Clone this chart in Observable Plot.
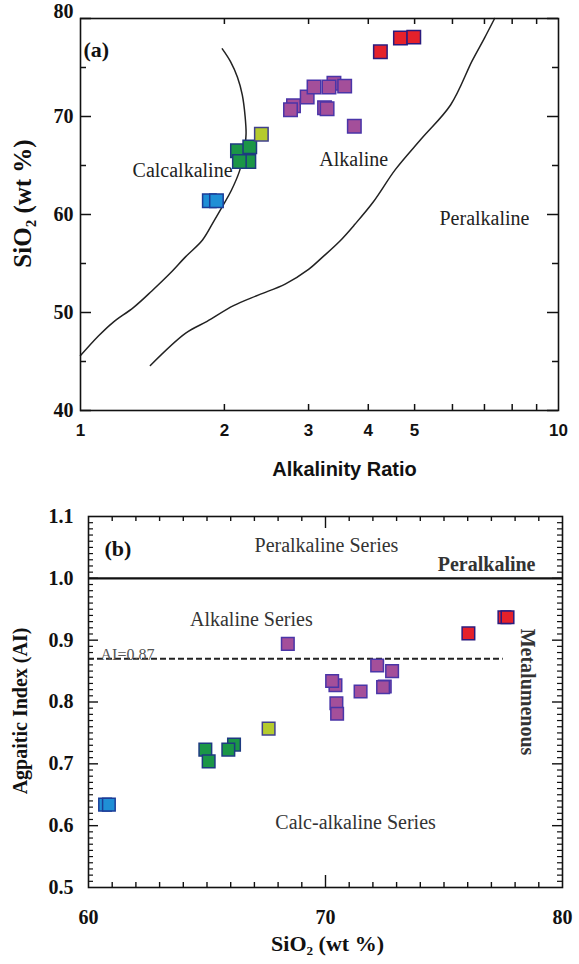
<!DOCTYPE html>
<html>
<head>
<meta charset="utf-8">
<script src="https://cdn.jsdelivr.net/npm/d3@7"></script>
<script src="https://cdn.jsdelivr.net/npm/@observablehq/plot@0.6"></script>
<style>
  body { margin: 0; background: #fff; }
  #fig { position: relative; width: 579px; height: 964px; background: #fff; }
  #fig svg { display: block; }
</style>
</head>
<body>
<div id="fig"></div>
<script>
// ---------- Panel (a): SiO2 vs alkalinity ratio ----------
const groupA  = ["G1","G1","G2","G2","G2","G2","G3","G4","G4","G4","G4","G4","G4","G4","G4","G4","G4","G5","G5","G5"];
const ratioA  = [1.86, 1.925, 2.13, 2.26, 2.25, 2.15, 2.39, 2.79, 2.75, 2.98, 3.08, 3.39, 3.31, 3.57, 3.24, 3.28, 3.74, 4.24, 4.67, 4.98];
const sio2A   = [61.4, 61.4, 66.5, 66.9, 65.4, 65.4, 68.2, 71.1, 70.7, 72.0, 73.0, 73.4, 73.0, 73.1, 70.9, 70.8, 69.0, 76.6, 78.0, 78.1];

// field boundaries (alkalinity ratio, SiO2)
const calcAlkRatio = [1.00, 1.09, 1.17, 1.29, 1.41, 1.54, 1.66, 1.80, 1.90, 1.98, 2.07, 2.15, 2.20, 2.22, 2.21, 2.18, 2.13, 2.06, 1.98];
const calcAlkSio2  = [45.6, 47.6, 49.0, 50.5, 52.2, 54.0, 55.7, 57.4, 59.3, 60.8, 62.5, 64.4, 66.3, 68.2, 70.0, 72.2, 74.0, 75.6, 76.9];
const perAlkRatio  = [1.40, 1.66, 1.84, 2.09, 2.36, 2.68, 3.00, 3.20, 3.49, 3.75, 4.10, 4.56, 5.16, 5.95, 6.60, 7.00, 7.35];
const perAlkSio2   = [44.6, 47.9, 49.1, 50.7, 51.8, 52.9, 54.4, 55.6, 57.3, 59.0, 61.3, 64.6, 67.7, 71.2, 75.7, 78.0, 80.0];

const ratioTicks   = [1, 2, 3, 4, 5, 6, 7, 8, 9, 10];
const sio2Major    = [40, 50, 60, 70, 80];
const sio2Minor    = [45, 55, 65, 75];

const fieldLabelsA = ["Calcalkaline", "Alkaline", "Peralkaline"];
const fieldRatioA  = [1.635, 3.73, 7.0];
const fieldSio2A   = [64.5, 65.6, 59.6];

// ---------- Panel (b): agpaitic index vs SiO2 ----------
const groupB = ["G1","G1","G2","G2","G2","G2","G3","G4","G4","G4","G4","G4","G4","G4","G4","G4","G4","G5","G5","G5"];
const sio2B  = [60.70, 60.86, 64.93, 65.07, 66.14, 65.90, 67.60, 68.41, 70.42, 70.28, 70.46, 70.49, 71.48, 72.50, 72.43, 72.18, 72.81, 76.03, 77.55, 77.68];
const aiB    = [0.634, 0.634, 0.723, 0.704, 0.731, 0.723, 0.757, 0.894, 0.827, 0.834, 0.798, 0.781, 0.817, 0.825, 0.824, 0.859, 0.850, 0.911, 0.937, 0.937];

const peralkalineLimit = 1.0;
const aiLimit = 0.87;
const aiLimitEnd = 77.5;

const sio2TicksB = [60, 70, 80];
const aiTicksB   = [0.5, 0.6, 0.7, 0.8, 0.9, 1.0, 1.1];

const seriesLabelsB = ["Peralkaline Series", "Alkaline Series", "Calc-alkaline Series"];
const seriesSio2B   = [70.04, 66.87, 71.27];
const seriesAiB     = [1.053, 0.933, 0.605];

// ---------- styling ----------
const groupStyle = {
  G1: {fill: "#1f8fd6", stroke: "#1b3d98"},
  G2: {fill: "#1b9647", stroke: "#1d3a80"},
  G3: {fill: "#b5cb2d", stroke: "#40408c"},
  G4: {fill: "#a44f9a", stroke: "#4a35a8"},
  G5: {fill: "#e5212b", stroke: "#2b1b7d"}
};
const serif = "'Liberation Serif', 'Times New Roman', serif";
const sans = "'Liberation Sans', Arial, sans-serif";

const rowsA = ratioA.map((r, i) => ({ratio: r, sio2: sio2A[i], group: groupA[i]}));
const rowsB = sio2B.map((s, i) => ({sio2: s, ai: aiB[i], group: groupB[i]}));
const line = (xs, ys) => xs.map((x, i) => ({x, y: ys[i]}));

function dotsByGroup(rows, x, y, r) {
  return rows.map((d) => Plot.dot([d], {
    x, y, symbol: "square", r,
    fill: groupStyle[d.group].fill, stroke: groupStyle[d.group].stroke, strokeWidth: 1.5
  }));
}

const fig = document.getElementById("fig");

// ----- panel (a) -----
const A = {width: 579, height: 485, left: 80, right: 21, top: 18, bottom: 75};
const AW = A.width - A.left - A.right, AH = A.height - A.top - A.bottom;
const innerRatio = ratioTicks.slice(1, -1);

const chartA = Plot.plot({
  width: A.width, height: A.height,
  marginLeft: A.left, marginRight: A.right, marginTop: A.top, marginBottom: A.bottom,
  x: {type: "log", domain: [1, 10]},
  y: {domain: [40, 80]},
  style: {fontFamily: serif, background: "#fff", color: "#111", overflow: "visible"},
  marks: [
    Plot.tickX(innerRatio, {x: (d) => d, insetTop: AH - 6, stroke: "#111", strokeWidth: 1.5}),
    Plot.tickX(innerRatio, {x: (d) => d, insetBottom: AH - 6, stroke: "#111", strokeWidth: 1.5}),
    Plot.tickY(sio2Major, {y: (d) => d, insetRight: AW - 11, stroke: "#111", strokeWidth: 1.5}),
    Plot.tickY(sio2Major, {y: (d) => d, insetLeft: AW - 11, stroke: "#111", strokeWidth: 1.5}),
    Plot.tickY(sio2Minor, {y: (d) => d, insetRight: AW - 6, stroke: "#111", strokeWidth: 1.5}),
    Plot.tickY(sio2Minor, {y: (d) => d, insetLeft: AW - 6, stroke: "#111", strokeWidth: 1.5}),
    Plot.axisX(ratioTicks, {tickSize: 0, tickPadding: 13, tickFormat: (d) => String(d), label: null,
      fontFamily: sans, fontWeight: "bold", fontSize: 17}),
    Plot.axisY(sio2Major.slice(0, -1), {tickSize: 0, tickPadding: 7, tickFormat: (d) => String(d), label: null,
      fontWeight: "bold", fontSize: 20}),
    Plot.axisY(sio2Major.slice(-1), {tickSize: 0, tickPadding: 7, tickFormat: (d) => String(d), label: null,
      fontWeight: "bold", fontSize: 20, dy: -7}),
    Plot.line(line(calcAlkRatio, calcAlkSio2), {x: "x", y: "y", curve: "catmull-rom", stroke: "#222", strokeWidth: 1.5}),
    Plot.line(line(perAlkRatio, perAlkSio2), {x: "x", y: "y", curve: "catmull-rom", stroke: "#222", strokeWidth: 1.5}),
    ...dotsByGroup(rowsA, "ratio", "sio2", 7.6),
    Plot.text(fieldLabelsA, {x: (d, i) => fieldRatioA[i], y: (d, i) => fieldSio2A[i], text: (d) => d,
      fontSize: 20, fill: "#222"}),
    Plot.text(["(a)"], {text: (d) => d, frameAnchor: "top-left", textAnchor: "start", dx: 3, dy: 23,
      fontSize: 22, fontWeight: "bold"}),
    Plot.text(["Alkalinity Ratio"], {text: (d) => d, frameAnchor: "bottom", textAnchor: "middle", dx: 25, dy: 65,
      fontFamily: sans, fontWeight: "bold", fontSize: 20}),
    Plot.text(["SiO₂ (wt %)"], {text: (d) => d, frameAnchor: "left", textAnchor: "middle", rotate: -90, dx: -58, dy: -11,
      fontWeight: "bold", fontSize: 25}),
    Plot.frame({stroke: "#111", strokeWidth: 1.6})
  ]
});
fig.appendChild(chartA);

// ----- panel (b) -----
const B = {width: 579, height: 479, left: 88, right: 17, top: 31, bottom: 77};
const BW = B.width - B.left - B.right, BH = B.height - B.top - B.bottom;
const sio2MinorB = d3.range(61, 80).filter((v) => v !== 70);
const aiMinorB = d3.range(51, 110).filter((v) => v % 10 !== 0).map((v) => v / 100);
const aiInnerB = aiTicksB.slice(1, -1);

const chartB = Plot.plot({
  width: B.width, height: B.height,
  marginLeft: B.left, marginRight: B.right, marginTop: B.top, marginBottom: B.bottom,
  x: {domain: [60, 80]},
  y: {domain: [0.5, 1.1]},
  style: {fontFamily: serif, background: "#fff", color: "#111", overflow: "visible"},
  marks: [
    Plot.tickX(sio2MinorB, {x: (d) => d, insetTop: BH - 5, stroke: "#111", strokeWidth: 1.4}),
    Plot.tickX(sio2MinorB, {x: (d) => d, insetBottom: BH - 5, stroke: "#111", strokeWidth: 1.4}),
    Plot.tickX([70], {x: (d) => d, insetTop: BH - 12, stroke: "#111", strokeWidth: 1.4}),
    Plot.tickX([70], {x: (d) => d, insetBottom: BH - 12, stroke: "#111", strokeWidth: 1.4}),
    Plot.tickY(aiMinorB, {y: (d) => d, insetRight: BW - 5, stroke: "#111", strokeWidth: 1.2}),
    Plot.tickY(aiMinorB, {y: (d) => d, insetLeft: BW - 5, stroke: "#111", strokeWidth: 1.2}),
    Plot.tickY(aiInnerB, {y: (d) => d, insetRight: BW - 10, stroke: "#111", strokeWidth: 1.4}),
    Plot.tickY(aiInnerB, {y: (d) => d, insetLeft: BW - 10, stroke: "#111", strokeWidth: 1.4}),
    Plot.axisX(sio2TicksB, {tickSize: 0, tickPadding: 22, tickFormat: (d) => String(d), label: null,
      fontWeight: "bold", fontSize: 20}),
    Plot.axisY(aiTicksB, {tickSize: 0, tickPadding: 15, tickFormat: (d) => d.toFixed(1), label: null,
      fontWeight: "bold", fontSize: 20}),
    Plot.ruleY([peralkalineLimit], {stroke: "#111", strokeWidth: 2.2}),
    Plot.ruleY([aiLimit], {x1: 60, x2: aiLimitEnd, stroke: "#222", strokeWidth: 2, strokeDasharray: "6,3"}),
    Plot.text(["AI=0.87"], {text: (d) => d, x: 60, y: aiLimit, textAnchor: "start", lineAnchor: "bottom",
      dx: 12, dy: 1, fontSize: 16, fill: "#555"}),
    Plot.text(seriesLabelsB, {x: (d, i) => seriesSio2B[i], y: (d, i) => seriesAiB[i], text: (d) => d,
      fontSize: 20, fill: "#333"}),
    Plot.text(["Peralkaline"], {text: (d) => d, x: 80, y: peralkalineLimit, textAnchor: "end", lineAnchor: "bottom",
      dx: -27, dy: -7, fontSize: 20, fontWeight: "bold", fill: "#333"}),
    Plot.text(["Metalumenous"], {text: (d) => d, frameAnchor: "right", textAnchor: "middle", rotate: 90, dx: -35, dy: -10,
      fontSize: 20, fontWeight: "bold", fill: "#333"}),
    ...dotsByGroup(rowsB, "sio2", "ai", 7.1),
    Plot.text(["(b)"], {text: (d) => d, frameAnchor: "top-left", textAnchor: "start", dx: 16, dy: 24,
      fontSize: 22, fontWeight: "bold"}),
    Plot.text(["Agpaitic Index (AI)"], {text: (d) => d, frameAnchor: "left", textAnchor: "middle", rotate: -90, dx: -68, dy: 9,
      fontWeight: "bold", fontSize: 20}),
    Plot.text(["SiO₂ (wt %)"], {text: (d) => d, frameAnchor: "bottom", textAnchor: "middle", dx: 2, dy: 63,
      fontWeight: "bold", fontSize: 22}),
    Plot.frame({stroke: "#111", strokeWidth: 1.6})
  ]
});
fig.appendChild(chartB);
</script>
</body>
</html>
